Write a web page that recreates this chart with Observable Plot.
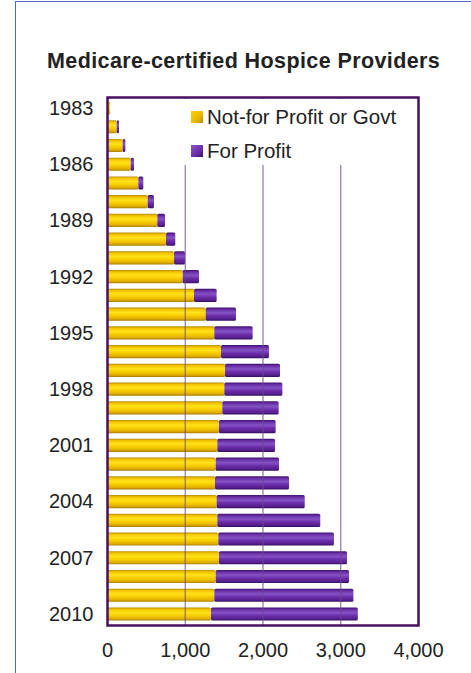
<!DOCTYPE html>
<html><head><meta charset="utf-8">
<script src="https://cdn.jsdelivr.net/npm/d3@7"></script>
<script src="https://cdn.jsdelivr.net/npm/@observablehq/plot@0.6"></script>
<style>
body{margin:0;background:#fff;font-family:"Liberation Sans",Arial,sans-serif;}
#page{position:relative;width:471px;height:673px;overflow:hidden;background:#fff;}
#box{position:absolute;left:15px;top:1px;width:520px;height:720px;border-left:1.5px solid #4a6db5;border-top:1.5px solid #4a6db5;}
#title{position:absolute;left:47px;top:51px;font-weight:bold;font-size:21.5px;line-height:1;color:#222;letter-spacing:0.4px;white-space:nowrap;}
#chart{position:absolute;left:0;top:80px;}
#legend{position:absolute;left:184px;top:99px;width:232px;height:66px;background:#fff;}
.item{position:absolute;left:0;height:24px;display:flex;align-items:center;white-space:nowrap;}
.sw{width:12px;height:12px;margin-left:7px;margin-right:4px;}
.lab{font-size:20.5px;color:#222;}
</style></head><body>
<div id="page">
  <div id="box"></div>
  <div id="title">Medicare-certified Hospice Providers</div>
  <div id="chart"></div>
  <div id="legend"></div>
</div>
<script>
const years = [1983,1984,1985,1986,1987,1988,1989,1990,1991,1992,1993,1994,1995,1996,1997,1998,1999,2000,2001,2002,2003,2004,2005,2006,2007,2008,2009,2010];
const notForProfit = [40,125,201,305,403,523,647,759,862,973,1119,1269,1380,1466,1518,1509,1483,1440,1419,1398,1389,1410,1419,1432,1440,1398,1380,1337];
const forProfit = [0,29,35,42,64,81,99,119,141,210,291,390,493,617,707,746,725,729,742,814,952,1133,1324,1487,1647,1715,1789,1889];
const seriesNames = ["Not-for Profit or Govt","For Profit"];
const yearTicks = [1983,1986,1989,1992,1995,1998,2001,2004,2007,2010];
const xTicks = [0,1000,2000,3000,4000];
const gridValues = [1000,2000,3000];

const fills = ["url(#gradYellow)","url(#gradPurple)"];

const rows = [];
years.forEach((y,i)=>{
  rows.push({year:y, series:seriesNames[0], value:notForProfit[i]});
  rows.push({year:y, series:seriesNames[1], value:forProfit[i]});
});

const svg = Plot.plot({
  width: 471,
  height: 593,
  marginLeft: 107,
  marginRight: 53,
  marginTop: 17,
  marginBottom: 48,
  style: {fontFamily: '"Liberation Sans", Arial, sans-serif', fontSize: "20px", color: "#222", background: "transparent"},
  x: {domain: [0,4000]},
  y: {domain: years, paddingInner: 0.3, paddingOuter: 0.235, round: false},
  color: {domain: seriesNames, range: fills},
  marks: [
    Plot.barX(rows, Plot.stackX({x: "value", y: "year", fill: "series", order: seriesNames, rx: 1.5})),
    Plot.ruleX(gridValues, {stroke: "#6b4a88", strokeWidth: 1.2, strokeOpacity: 0.75}),
    Plot.frame({stroke: "#4a0f62", strokeWidth: 2.5}),
    Plot.axisX({ticks: xTicks, tickFormat: d3.format(","), tickSize: 0, tickPadding: 17, fill: "#222", label: null}),
    Plot.axisY({ticks: yearTicks, tickFormat: d => String(d), tickSize: 0, tickPadding: 14, fill: "#222", label: null})
  ]
});

const defs = d3.select(svg).insert("defs", ":first-child");
function grad(id, stops){
  const g = defs.append("linearGradient").attr("id", id).attr("x1",0).attr("y1",0).attr("x2",0).attr("y2",1);
  stops.forEach(([o,c])=>g.append("stop").attr("offset",o).attr("stop-color",c));
}
grad("gradYellow", [["0%","#b88a00"],["14%","#f2c400"],["38%","#ffe21a"],["62%","#f6cd00"],["85%","#e0ae00"],["100%","#a87c00"]]);
grad("gradPurple", [["0%","#3c0f6c"],["16%","#6a30a8"],["40%","#8552c4"],["64%","#6a2ca8"],["86%","#56208e"],["100%","#360c62"]]);

document.getElementById("chart").appendChild(svg);

const leg = document.getElementById("legend");
const legTops = [6, 40];
seriesNames.forEach((name,i)=>{
  const it = document.createElement("div");
  it.className = "item";
  it.style.top = legTops[i] + "px";
  const sw = document.createElementNS("http://www.w3.org/2000/svg","svg");
  sw.setAttribute("class","sw");
  sw.setAttribute("width","12"); sw.setAttribute("height","12");
  sw.innerHTML = `<defs><linearGradient id="lg${i}" x1="0" y1="0" x2="1" y2="1">${i===0
    ? '<stop offset="0" stop-color="#f7d200"/><stop offset="0.6" stop-color="#e8b800"/><stop offset="1" stop-color="#b88a00"/>'
    : '<stop offset="0" stop-color="#8a58c8"/><stop offset="0.6" stop-color="#6a2ca8"/><stop offset="1" stop-color="#3c0f6c"/>'}</linearGradient></defs><rect width="12" height="12" fill="url(#lg${i})"/>`;
  const lab = document.createElement("span");
  lab.className = "lab";
  lab.textContent = name;
  it.appendChild(sw); it.appendChild(lab);
  leg.appendChild(it);
});
</script>
</body></html>
